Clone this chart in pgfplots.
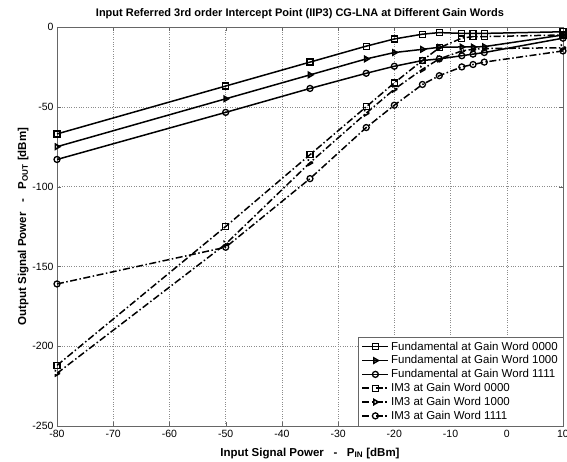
\documentclass[border=0pt]{standalone}
\usepackage{fontspec}
\setmainfont{Liberation Sans}
\usepackage{pgfplots}
\pgfplotsset{compat=1.18}
\begin{document}
\begin{tikzpicture}[x=1pt,y=1pt]
\path[use as bounding box] (-57,-35) rectangle (510,426);
\begin{axis}[at={(0,0)},anchor=south west,scale only axis,
 width=506pt,height=399pt,xmin=-80,xmax=10,ymin=-250,ymax=0,
 xtick={-80,-70,...,10},ytick={-250,-200,...,0},
 grid=major,grid style={dotted,black!45},
 axis line style={black!60},tick style={black!60},tick align=inside,
 tick label style={font=\fontsize{10.5}{11}\selectfont},
 xticklabel style={yshift=-1pt},
 /pgf/number format/assume math mode=true,
 title={\bfseries Input Referred 3rd order Intercept Point (IIP3) CG-LNA at Different Gain Words},
 title style={font=\fontsize{11}{12}\selectfont,yshift=-1pt,xshift=-10pt},
 xlabel={\bfseries Input Signal Power\ \ \ -\ \ \ P$_{\mathbf{IN}}$ [dBm]},
 ylabel={\bfseries Output Signal Power\ \ \ -\ \ \ P$_{\mathbf{OUT}}$ [dBm]},
 xlabel style={font=\fontsize{11.5}{12}\selectfont,yshift=-3pt},
 ylabel style={font=\fontsize{11.5}{12}\selectfont,yshift=-3pt},
 legend style={at={(1,0)},anchor=south east,font=\fontsize{11.5}{13}\selectfont,draw=black!60,
  row sep=0pt,inner sep=3pt},
 legend cell align=left,
 every axis plot/.append style={line width=1.5pt,mark size=3pt},
 fnd/.style={solid,mark options={solid,line width=1.3pt}},
 im/.style={dash pattern=on 7pt off 2.5pt on 1.5pt off 2.5pt,mark options={solid,line width=1.3pt}},
 legend image code/.code={\draw[#1,line width=1.5pt] (0pt,0pt) -- (26pt,0pt);\draw[#1,line width=1.5pt,solid] plot coordinates {(13pt,0pt)};}
]
\addplot[black,fnd,mark=square] coordinates {(-80,-67) (-50,-37) (-35,-22) (-25,-12) (-20,-7.5) (-15,-4.5) (-12,-3.5) (-8,-4) (-6,-4) (-4,-4) (10,-3)};
\addlegendentry{Fundamental at Gain Word 0000}
\addplot[black,fnd,mark=triangle,mark options={rotate=-90}] coordinates {(-80,-75) (-50,-45) (-35,-30) (-25,-20) (-20,-16) (-15,-14) (-12,-12.7) (-8,-12.5) (-6,-12.5) (-4,-12.3) (10,-5)};
\addlegendentry{Fundamental at Gain Word 1000}
\addplot[black,fnd,mark=o] coordinates {(-80,-83) (-50,-53.5) (-35,-38.5) (-25,-29) (-20,-24.6) (-15,-21) (-12,-20) (-8,-18) (-6,-17) (-4,-16) (10,-7)};
\addlegendentry{Fundamental at Gain Word 1111}
\addplot[black,im,mark=square] coordinates {(-80,-212) (-50,-125) (-35,-80) (-25,-50) (-20,-35) (-15,-21) (-12,-13) (-8,-7) (-6,-6) (-4,-6) (10,-5)};
\addlegendentry{IM3 at Gain Word 0000}
\addplot[black,im,mark=triangle,mark options={rotate=-90}] coordinates {(-80,-217) (-50,-136) (-35,-85) (-25,-54) (-20,-39) (-15,-26.5) (-12,-20) (-8,-15) (-6,-14) (-4,-13.5) (10,-13)};
\addlegendentry{IM3 at Gain Word 1000}
\addplot[black,im,mark=o] coordinates {(-80,-161) (-50,-138) (-35,-95) (-25,-63) (-20,-49) (-15,-36) (-12,-30.5) (-8,-25) (-6,-23.5) (-4,-22) (10,-15)};
\addlegendentry{IM3 at Gain Word 1111}
\end{axis}
\end{tikzpicture}
\end{document}
